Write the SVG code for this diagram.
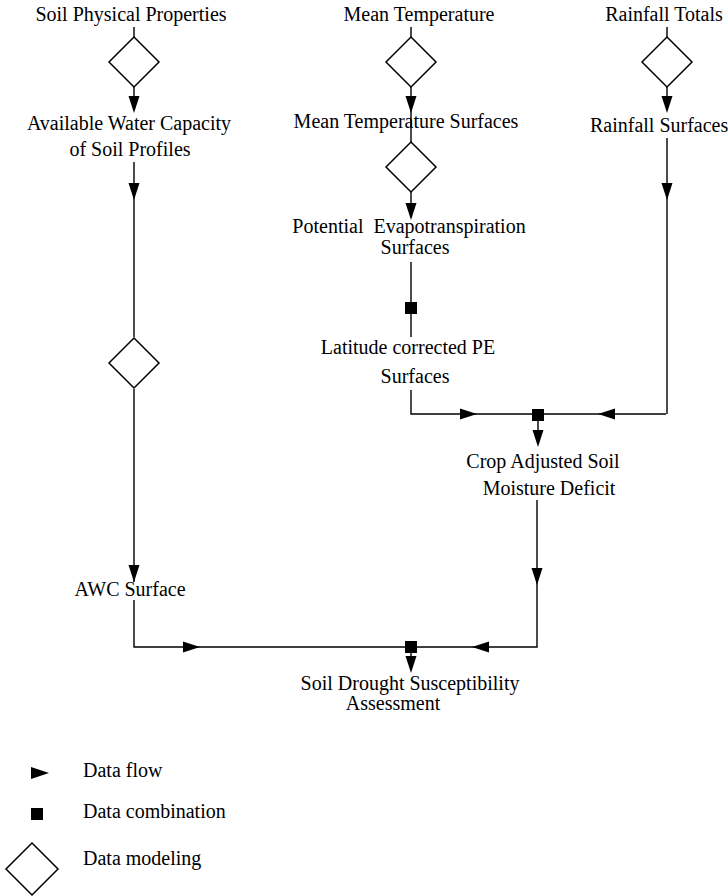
<svg xmlns="http://www.w3.org/2000/svg" width="728" height="896" viewBox="0 0 728 896">
<style>
text{font-family:'Liberation Serif','Times New Roman',serif;font-size:20px;fill:#000;white-space:pre}
.c{text-anchor:middle}
.ln{fill:none;stroke:#000;stroke-width:1.4}
.dm{fill:#fff;stroke:#000;stroke-width:1.5}
.ah{fill:#000;stroke:none}
</style>
<defs>
<path id="aDown" class="ah" d="M0,0 L-5.5,-17 L5.5,-17 Z"/>
<path id="aRight" class="ah" d="M0,0 L-17,-5.5 L-17,5.5 Z"/>
<path id="aLeft" class="ah" d="M0,0 L17,-5.5 L17,5.5 Z"/>
<path id="diamond" class="dm" d="M0,-25 L25,0 L0,25 L-25,0 Z"/>
<rect id="sq" class="ah" x="-6" y="-6" width="12" height="12"/>
</defs>
<rect width="728" height="896" fill="#fff"/>

<g id="connectors">
<path class="ln" d="M134,27 V37 M134,87 V100 M134,162 V190 L134,337 M134,389 V582 M134,600 V647 H410"/>
<path class="ln" d="M411,27 V37 M411,87 V100 M411,110 V142 M411,192 V210 M411,262 V337 M411,390 V414 H666 M667,27 V37 M667,87 V100 M667,138 V414"/>
<path class="ln" d="M538,415 V440 M537,500 V647 H410 M411,647 V665"/>
<use href="#aDown" x="134" y="113"/>
<use href="#aDown" x="134" y="200"/>
<use href="#aDown" x="134" y="582"/>
<use href="#aRight" x="200" y="647"/>
<use href="#aDown" x="411" y="113"/>
<use href="#aDown" x="411" y="220"/>
<use href="#aRight" x="477" y="414"/>
<use href="#aDown" x="667" y="113"/>
<use href="#aDown" x="667" y="200"/>
<use href="#aLeft" x="598" y="414"/>
<use href="#aDown" x="538" y="447"/>
<use href="#aDown" x="537" y="585"/>
<use href="#aLeft" x="472" y="647"/>
<use href="#aDown" x="411" y="673"/>
</g>

<g id="soil-physical-properties"><text class="c" x="131" y="21">Soil Physical Properties</text></g>
<g id="model-awc"><use href="#diamond" x="134" y="62"/></g>
<g id="available-water-capacity"><text class="c" x="129" y="130">Available Water Capacity</text><text class="c" x="130" y="156">of Soil Profiles</text></g>
<g id="model-awc-surface"><use href="#diamond" x="134" y="363"/></g>
<g id="awc-surface"><text class="c" x="130" y="596">AWC Surface</text></g>

<g id="mean-temperature"><text class="c" x="419" y="21">Mean Temperature</text></g>
<g id="model-temp"><use href="#diamond" x="411" y="62"/></g>
<g id="mean-temperature-surfaces"><text class="c" x="406" y="128">Mean Temperature Surfaces</text></g>
<g id="model-pe"><use href="#diamond" x="411" y="167"/></g>
<g id="pe-surfaces"><text class="c" x="409" y="233">Potential  Evapotranspiration</text><text class="c" x="415" y="254">Surfaces</text></g>
<g id="combine-latitude"><use href="#sq" x="411" y="308"/></g>
<g id="latitude-pe"><text class="c" x="408" y="354">Latitude corrected PE</text><text class="c" x="415" y="383">Surfaces</text></g>

<g id="rainfall-totals"><text class="c" x="664" y="21">Rainfall Totals</text></g>
<g id="model-rain"><use href="#diamond" x="667" y="62"/></g>
<g id="rainfall-surfaces"><text x="590" y="132">Rainfall Surfaces</text></g>

<g id="combine-smd"><use href="#sq" x="538" y="415"/></g>
<g id="crop-smd"><text class="c" x="543" y="468">Crop Adjusted Soil</text><text class="c" x="549" y="495">Moisture Deficit</text></g>

<g id="combine-final"><use href="#sq" x="411" y="647"/></g>
<g id="drought-assessment"><text class="c" x="410" y="690">Soil Drought Susceptibility</text><text class="c" x="393" y="710">Assessment</text></g>

<g id="legend">
<path class="ah" d="M49,773 L31,767 L31,779 Z"/>
<text x="83" y="777">Data flow</text>
<rect class="ah" x="31" y="808" width="12" height="12"/>
<text x="83" y="818">Data combination</text>
<path class="dm" d="M32,843 L58,869 L32,895 L6,869 Z"/>
<text x="83" y="865">Data modeling</text>
</g>
</svg>
